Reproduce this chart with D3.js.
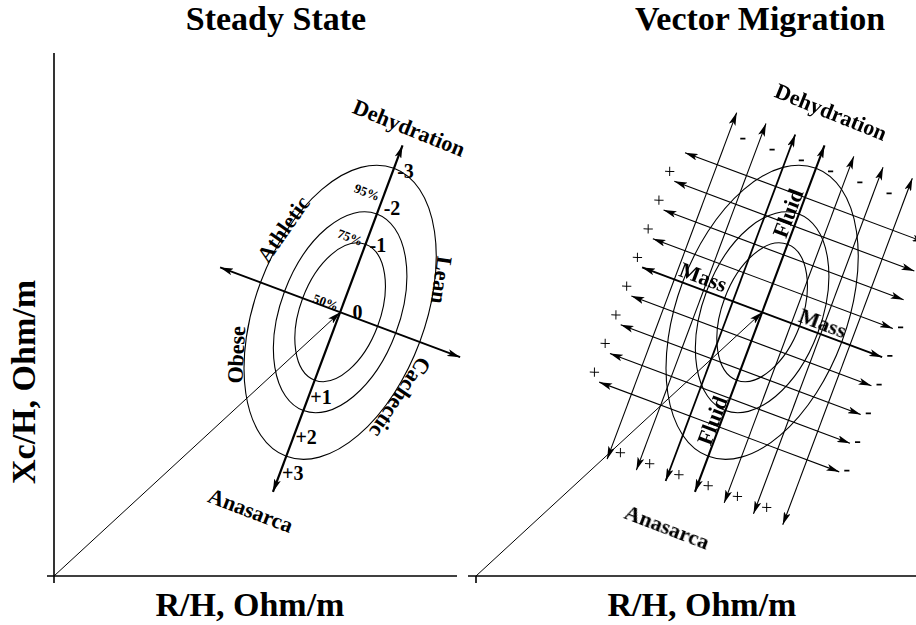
<!DOCTYPE html>
<html><head><meta charset="utf-8">
<script src="https://cdn.jsdelivr.net/npm/d3@7"></script>
<style>
body{margin:0;background:#fff}
text{font-family:"Liberation Serif","Times New Roman",serif;font-weight:bold;fill:#000}
</style>
</head><body>
<svg id="chart" width="916" height="625"></svg>
<script>
// ---------------- data ----------------
const panelTitles = ["Steady State", "Vector Migration"];
const axisLabelX = "R/H, Ohm/m";
const axisLabelY = "Xc/H, Ohm/m";
const rDomain = [0, 500];          // R/H, Ohm/m
const xcDomain = [0, 70];          // Xc/H, Ohm/m
const meanPoint = [355, 35.3];     // reference mean vector (R/H, Xc/H)
const toleranceLabels = ["50%", "75%", "95%"];
const ellipseMajor = [1.16, 1.68, 2.46];   // semi-axis along fluid axis (sd units)
const ellipseMinor = [0.64, 0.95, 1.36];   // semi-axis along mass axis (sd units)
const tolLabelAt = [0.07, 1.18, 1.95];     // position of % labels along fluid axis
const zTickLabels = ["-3", "-2", "-1", "0", "+1", "+2", "+3"];
const zTickAt = [2.48, 1.86, 1.22, 0.1, -1.38, -2.06, -2.67]; // along fluid axis (sd, + = dehydration)
const fluidAxisExtent = [-3.07, 2.85];
const massAxisExtent = [-2.05, 2.05];
const steadyLabels = ["Dehydration", "Athletic", "Lean", "Obese", "Cachectic", "Anasarca"];
const migrationLabels = ["Dehydration", "Fluid", "Fluid", "Mass", "Mass", "Anasarca"];
const fluidGridOffsets = [-1.5, -1, -0.5, 0, 0.5, 1, 1.5];          // along mass axis
const massGridOffsets = [-1.96, -1.47, -0.98, -0.49, 0, 0.49, 0.98, 1.47, 1.96]; // along fluid axis (+ = hydration)

// ---------------- layout ----------------
const theta = 20.5;
const rad = theta * Math.PI / 180;
const U = [Math.cos(rad), Math.sin(rad)];
const V = [Math.sin(rad), -Math.cos(rad)];
const sd = d3.scaleLinear().domain([0, 1]).range([0, 62.5]);
const panelLayout = [{x0: 54, titleX: 276, labelX: 250}, {x0: 476, titleX: 760, labelX: 702}];
const steadyPos = [[0, 3.15, 22], [-1.32, 0.93, -55], [1.34, 1.05, 98], [-1.32, -1.22, -87], [1.38, -0.94, 124], [-0.23, -3.47, 21]];
const migrationPos = [[-0.09, 3.39, 22], [-0.17, 1.63, -69.5], [-0.14, -1.9, -69.5], [-1.08, 0.2, 20.5], [0.97, 0.19, 20.5], [-0.22, -3.74, 21]];
const W = 916;

const svg = d3.select("#chart");
const defs = svg.append("defs");
defs.append("marker").attr("id", "ah").attr("viewBox", "0 0 13 7").attr("refX", 13).attr("refY", 3.5)
  .attr("markerUnits", "userSpaceOnUse").attr("markerWidth", 13).attr("markerHeight", 7)
  .attr("orient", "auto-start-reverse")
  .append("path").attr("d", "M0,0L13,3.5L0,7L3,3.5Z").attr("fill", "#000");

panelTitles.forEach((title, k) => {
  const L = panelLayout[k];
  const xs = d3.scaleLinear().domain(rDomain).range([L.x0, L.x0 + 403]);
  const ys = d3.scaleLinear().domain(xcDomain).range([576, 53]);
  const c = [xs(meanPoint[0]), ys(meanPoint[1])];
  const toPx = (m, f) => [c[0] + U[0] * sd(m) + V[0] * sd(f), c[1] + U[1] * sd(m) + V[1] * sd(f)];

  svg.append("text").attr("x", L.titleX).attr("y", 30).attr("text-anchor", "middle")
    .style("font-size", "34px").text(title);
  svg.append("text").attr("x", L.labelX).attr("y", 616).attr("text-anchor", "middle")
    .style("font-size", "34px").text(axisLabelX);

  const ax = svg.append("g").attr("stroke", "#000").attr("stroke-width", 1.6);
  if (k === 0) {
    ax.append("line").attr("x1", xs(0)).attr("x2", xs(0)).attr("y1", ys(xcDomain[1])).attr("y2", ys(0) + 7);
    ax.append("line").attr("x1", xs(0) - 7).attr("x2", xs(rDomain[1])).attr("y1", ys(0)).attr("y2", ys(0));
  } else {
    ax.append("line").attr("x1", xs(0)).attr("x2", xs(0)).attr("y1", ys(0)).attr("y2", ys(0) + 7);
    ax.append("line").attr("x1", xs(0) - 8).attr("x2", W + 4).attr("y1", ys(0)).attr("y2", ys(0));
  }

  svg.append("line").attr("x1", xs(0)).attr("y1", ys(0)).attr("x2", c[0]).attr("y2", c[1])
    .attr("stroke", "#000").attr("stroke-width", 1).attr("marker-end", "url(#ah)");

  const g = svg.append("g").attr("transform", `translate(${c[0]},${c[1]}) rotate(${theta})`);
  g.selectAll("ellipse").data(ellipseMajor).join("ellipse")
    .attr("cx", 0).attr("cy", 0)
    .attr("rx", (d, i) => sd(ellipseMinor[i])).attr("ry", d => sd(d))
    .attr("fill", "none").attr("stroke", "#000").attr("stroke-width", 1.1);

  if (k === 0) {
    g.append("line").attr("x1", sd(massAxisExtent[0])).attr("x2", sd(massAxisExtent[1])).attr("y1", 0).attr("y2", 0)
      .attr("stroke", "#000").attr("stroke-width", 1.8)
      .attr("marker-start", "url(#ah)").attr("marker-end", "url(#ah)");
    g.append("line").attr("x1", 0).attr("x2", 0).attr("y1", sd(-fluidAxisExtent[0])).attr("y2", -sd(fluidAxisExtent[1]))
      .attr("stroke", "#000").attr("stroke-width", 2.2)
      .attr("marker-start", "url(#ah)").attr("marker-end", "url(#ah)");

    toleranceLabels.forEach((t, i) => {
      const p = toPx(-0.27, tolLabelAt[i]);
      svg.append("text").attr("transform", `translate(${p}) rotate(${theta})`)
        .attr("text-anchor", "middle").attr("dominant-baseline", "central")
        .style("font-size", "13px").text(t);
    });
    zTickLabels.forEach((t, i) => {
      const p = toPx(i === 3 ? 0.26 : 0.19, zTickAt[i]);
      svg.append("text").attr("x", p[0]).attr("y", p[1])
        .attr("text-anchor", "middle").attr("dominant-baseline", "central")
        .style("font-size", "20px").text(t);
    });
    steadyLabels.forEach((t, i) => {
      const [m, f, r] = steadyPos[i];
      const p = toPx(m, f);
      svg.append("text").attr("transform", `translate(${p}) rotate(${r})`)
        .attr("text-anchor", "middle").attr("dominant-baseline", "central")
        .style("font-size", "22px").text(t);
    });
  } else {
    g.selectAll("line.fl").data(fluidGridOffsets).join("line").attr("class", "fl")
      .attr("x1", d => sd(d)).attr("x2", d => sd(d))
      .attr("y1", sd(-fluidAxisExtent[0])).attr("y2", -sd(fluidAxisExtent[1]))
      .attr("stroke", "#000").attr("stroke-width", d => d === 0 ? 2.1 : (d === -0.5 ? 1.8 : 1.1))
      .attr("marker-start", "url(#ah)").attr("marker-end", "url(#ah)");
    g.selectAll("line.ms").data(massGridOffsets).join("line").attr("class", "ms")
      .attr("y1", d => sd(d)).attr("y2", d => sd(d))
      .attr("x1", sd(massAxisExtent[0])).attr("x2", sd(massAxisExtent[1]))
      .attr("stroke", "#000").attr("stroke-width", d => d === 0 ? 1.9 : 1.1)
      .attr("marker-start", "url(#ah)").attr("marker-end", "url(#ah)");
    const signs = svg.append("g").attr("opacity", 0.999);
    const sign = (x, y, s, bold) => {
      if (x > W - 5) return;   // sign falls outside the picture
      signs.append("text")
        .attr("transform", `translate(${x},${y}) rotate(0.3)`)
        .attr("text-anchor", "middle").attr("dominant-baseline", "central")
        .style("font-size", "20px").style("font-weight", bold ? "bold" : "normal").text(s);
    };
    fluidGridOffsets.forEach((d, i) => {
      const top = toPx(d, fluidAxisExtent[1]);
      sign(top[0] - V[0] * 20 + U[0] * 14, top[1] - V[1] * 20 + U[1] * 14, "-", true);
      if (i < fluidGridOffsets.length - 1) {
        const bot = toPx(d, fluidAxisExtent[0]);
        sign(bot[0] + V[0] * 11 + U[0] * 10, bot[1] + V[1] * 11 + U[1] * 10, "+", false);
      }
    });
    massGridOffsets.forEach((d, j) => {
      const rt = toPx(massAxisExtent[1], -d);
      sign(rt[0] + U[0] * 6 + V[0] * 6, rt[1] + U[1] * 6 + V[1] * 6, "-", true);
      if (j > 0) {
        const lt = toPx(massAxisExtent[0], -d);
        sign(lt[0] - U[0] * 8 + V[0] * 8, lt[1] - U[1] * 8 + V[1] * 8, "+", false);
      }
    });
    migrationLabels.forEach((t, i) => {
      const [m, f, r] = migrationPos[i];
      const p = toPx(m, f);
      svg.append("text").attr("transform", `translate(${p}) rotate(${r})`)
        .attr("text-anchor", "middle").attr("dominant-baseline", "central")
        .style("font-size", "22px").text(t);
    });
  }
});

svg.append("text").attr("transform", "translate(35,382) rotate(-90)").attr("text-anchor", "middle")
  .style("font-size", "34px").text(axisLabelY);
</script>
</body></html>
